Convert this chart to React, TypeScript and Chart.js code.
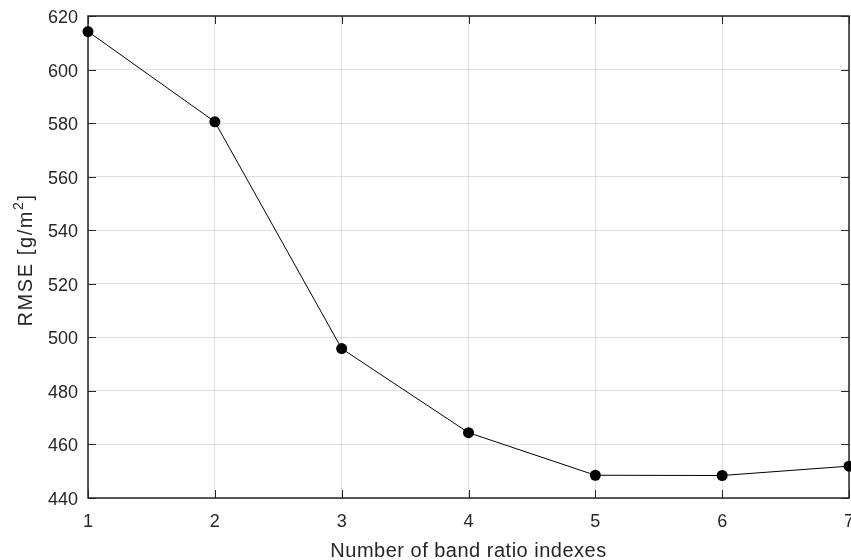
import React, { useEffect, useRef } from "react";
import { Chart, registerables } from "chart.js";

Chart.register(...registerables);

const xValues = [1, 2, 3, 4, 5, 6, 7];
const rmseValues = [614.2, 580.5, 495.8, 464.4, 448.5, 448.4, 451.9];
const yTicks = [440, 460, 480, 500, 520, 540, 560, 580, 600, 620];
const xTicks = [1, 2, 3, 4, 5, 6, 7];
const xTitle = "Number of band ratio indexes";
const yTitleMain = "RMSE [g/m";
const yTitleSup = "2";
const yTitleEnd = "]";

const AXIS_COLOR = "#262626";
const GRID_COLOR = "rgba(38,38,38,0.14)";
const FONT_FAMILY = "'Liberation Sans', Arial, sans-serif";

const boxPlugin = {
  id: "matlabBox",
  beforeDatasetsDraw(chart: any) {
    const { ctx, chartArea, scales } = chart;
    const { left, right, top, bottom } = chartArea;
    const tl = 8;
    ctx.save();
    ctx.strokeStyle = AXIS_COLOR;
    ctx.lineWidth = 1.5;
    ctx.beginPath();
    ctx.rect(left, top, right - left, bottom - top);
    ctx.stroke();
    ctx.lineWidth = 1;
    ctx.beginPath();
    for (const v of xTicks) {
      const x = Math.round(scales.x.getPixelForValue(v)) + 0.5;
      ctx.moveTo(x, bottom);
      ctx.lineTo(x, bottom - tl);
      ctx.moveTo(x, top);
      ctx.lineTo(x, top + tl);
    }
    for (const v of yTicks) {
      const y = Math.round(scales.y.getPixelForValue(v)) + 0.5;
      ctx.moveTo(left, y);
      ctx.lineTo(left + tl, y);
      ctx.moveTo(right, y);
      ctx.lineTo(right - tl, y);
    }
    ctx.stroke();
    ctx.restore();
  },
  afterDraw(chart: any) {
    const { ctx, chartArea } = chart;
    const { left, right, top, bottom } = chartArea;
    ctx.save();
    ctx.fillStyle = AXIS_COLOR;
    // x title
    ctx.font = `20px ${FONT_FAMILY}`;
    (ctx as any).letterSpacing = "0.5px";
    ctx.textAlign = "center";
    ctx.textBaseline = "alphabetic";
    ctx.fillText(xTitle, (left + right) / 2, 557);
    // y title with superscript
    (ctx as any).letterSpacing = "1.6px";
    const mainW = ctx.measureText(yTitleMain).width;
    const endW = ctx.measureText(yTitleEnd).width;
    ctx.font = `14px ${FONT_FAMILY}`;
    const supW = ctx.measureText(yTitleSup).width;
    const total = mainW + supW + endW;
    ctx.translate(32, (top + bottom) / 2 + 3);
    ctx.rotate(-Math.PI / 2);
    ctx.textAlign = "left";
    let x = -total / 2;
    ctx.font = `20px ${FONT_FAMILY}`;
    ctx.fillText(yTitleMain, x, 0);
    x += mainW;
    ctx.font = `14px ${FONT_FAMILY}`;
    ctx.fillText(yTitleSup, x, -9);
    x += supW;
    ctx.font = `20px ${FONT_FAMILY}`;
    ctx.fillText(yTitleEnd, x, 0);
    ctx.restore();
  },
};

const zeroPadding = () => ({ left: 0, right: 0, top: 0, bottom: 0 });

export default function App() {
  const ref = useRef<HTMLCanvasElement | null>(null);
  useEffect(() => {
    if (!ref.current) return;
    const chart = new Chart(ref.current, {
      type: "line",
      data: {
        datasets: [
          {
            data: xValues.map((x, i) => ({ x, y: rmseValues[i] })),
            borderColor: "#000000",
            borderWidth: 1,
            backgroundColor: "#000000",
            pointBackgroundColor: "#000000",
            pointBorderColor: "#000000",
            pointRadius: 5.5,
            pointBorderWidth: 0,
            tension: 0,
            clip: false,
          } as any,
        ],
      },
      options: {
        responsive: false,
        animation: false,
        layout: { autoPadding: false, padding: { top: 16, right: 2, left: 0, bottom: 0 } },
        plugins: { legend: { display: false }, tooltip: { enabled: false } },
        scales: {
          x: {
            type: "linear",
            min: 1,
            max: 7,
            afterFit: (s: any) => {
              s.height = 62;
              s.paddingLeft = 0;
              s.paddingRight = 0;
              s.getPadding = zeroPadding;
            },
            afterBuildTicks: (s: any) => {
              s.ticks = xTicks.map((v) => ({ value: v }));
            },
            grid: { color: GRID_COLOR, drawTicks: false, lineWidth: 1 },
            border: { display: false },
            ticks: {
              color: AXIS_COLOR,
              padding: 13,
              font: { family: FONT_FAMILY, size: 18 },
              maxRotation: 0,
            },
            title: { display: false },
          },
          y: {
            type: "linear",
            min: 440,
            max: 620,
            afterFit: (s: any) => {
              s.width = 88;
              s.paddingTop = 0;
              s.paddingBottom = 0;
              s.getPadding = zeroPadding;
            },
            afterBuildTicks: (s: any) => {
              s.ticks = yTicks.map((v) => ({ value: v }));
            },
            grid: { color: GRID_COLOR, drawTicks: false, lineWidth: 1 },
            border: { display: false },
            ticks: {
              color: AXIS_COLOR,
              padding: 10,
              labelOffset: 2,
              font: { family: FONT_FAMILY, size: 18 },
            },
            title: { display: false },
          },
        },
      },
      plugins: [boxPlugin],
    });
    return () => chart.destroy();
  }, []);
  return (
    <div style={{ position: "absolute", left: 0, top: 0, width: 851, height: 560, background: "#fff" }}>
      <canvas ref={ref} width={851} height={560} />
    </div>
  );
}
